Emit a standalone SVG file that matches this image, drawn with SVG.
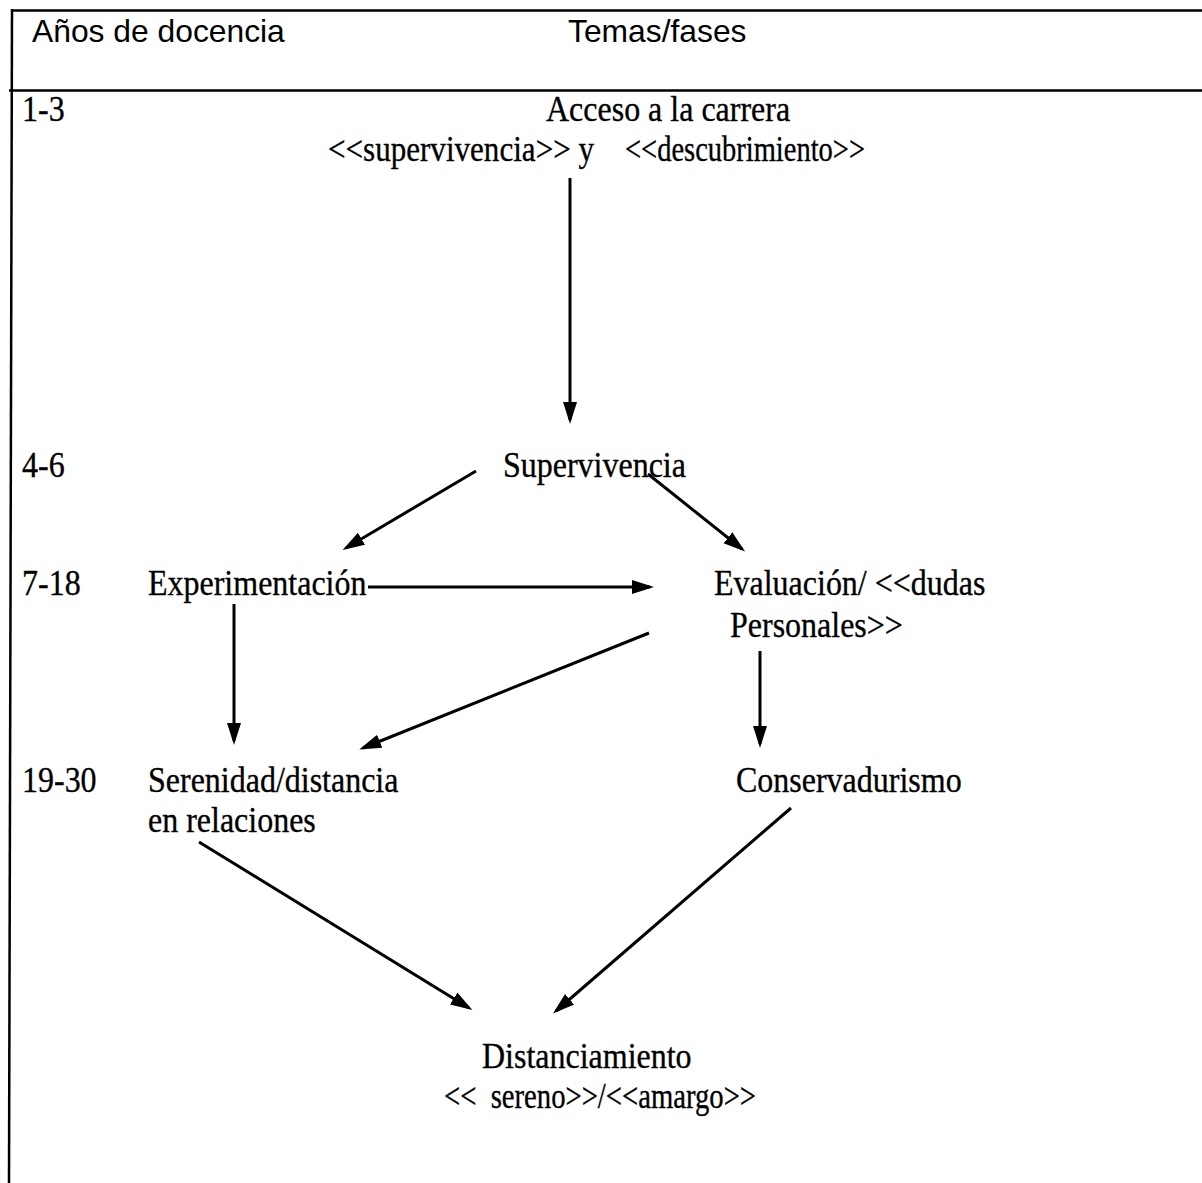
<svg xmlns="http://www.w3.org/2000/svg" width="1202" height="1183" viewBox="0 0 1202 1183">
<defs>
<style>
.frame{stroke:#000;stroke-width:2.5;fill:none}
.hd{font-family:"Liberation Sans",Arial,sans-serif;font-size:31.8px;fill:#000}
.t{font-family:"Liberation Serif","Times New Roman",serif;font-size:32px;fill:#000;stroke:#000;stroke-width:0.3}
.c{stroke:#000;stroke-width:3;fill:none;marker-end:url(#ah)}
</style>
<marker id="ah" markerUnits="userSpaceOnUse" markerWidth="22" markerHeight="16" refX="18" refY="8" orient="auto">
<path d="M0,1 L22,8 L0,15 z" fill="#000"/>
</marker>
</defs>
<rect width="1202" height="1183" fill="#fff"/>
<g id="table">
<line class="frame" x1="12" y1="10.5" x2="1202" y2="10.5"/>
<line class="frame" x1="9" y1="90.5" x2="1202" y2="90.5"/>
<line class="frame" x1="12" y1="9" x2="9" y2="1183"/>
<text class="hd" x="32" y="42">Años de docencia</text>
<text class="hd" x="568" y="42">Temas/fases</text>
<text class="t" transform="translate(22,121) scale(1,1.13)">1-3</text>
<text class="t" transform="translate(22,477) scale(1,1.13)">4-6</text>
<text class="t" transform="translate(22,595) scale(1,1.13)">7-18</text>
<text class="t" transform="translate(22,792) scale(1,1.13)">19-30</text>
</g>
<g id="n-acceso">
<text class="t" transform="translate(546,121) scale(1,1.13)">Acceso a la carrera</text>
<text class="t" transform="translate(328,161) scale(1,1.13)" textLength="266" lengthAdjust="spacingAndGlyphs">&lt;&lt;supervivencia&gt;&gt; y</text>
<text class="t" transform="translate(625,161) scale(1,1.13)" textLength="240" lengthAdjust="spacingAndGlyphs">&lt;&lt;descubrimiento&gt;&gt;</text>
</g>
<g id="n-supervivencia">
<text class="t" transform="translate(503,477) scale(1,1.13)">Supervivencia</text>
</g>
<g id="n-experimentacion">
<text class="t" transform="translate(148,595) scale(1,1.13)">Experimentación</text>
</g>
<g id="n-evaluacion">
<text class="t" transform="translate(714,595) scale(1,1.13)">Evaluación/ &lt;&lt;dudas</text>
<text class="t" transform="translate(730,637) scale(1,1.13)">Personales&gt;&gt;</text>
</g>
<g id="n-serenidad">
<text class="t" transform="translate(148,792) scale(1,1.13)">Serenidad/distancia</text>
<text class="t" transform="translate(148,832) scale(1,1.13)">en relaciones</text>
</g>
<g id="n-conservadurismo">
<text class="t" transform="translate(736,792) scale(1,1.13)">Conservadurismo</text>
</g>
<g id="n-distanciamiento">
<text class="t" transform="translate(482,1068) scale(1,1.13)">Distanciamiento</text>
<text class="t" transform="translate(444,1108) scale(1,1.13)" textLength="312" lengthAdjust="spacingAndGlyphs" xml:space="preserve">&lt;&lt;  sereno&gt;&gt;/&lt;&lt;amargo&gt;&gt;</text>
</g>
<g id="connectors">
<line class="c" x1="570" y1="178" x2="570" y2="420"/>
<line class="c" x1="476" y1="471" x2="346" y2="548"/>
<line class="c" x1="648" y1="474" x2="742" y2="549"/>
<line class="c" x1="368" y1="587" x2="650" y2="587"/>
<line class="c" x1="234" y1="604" x2="234" y2="741"/>
<line class="c" x1="649" y1="633" x2="363" y2="748"/>
<line class="c" x1="760" y1="651" x2="760" y2="744"/>
<line class="c" x1="199" y1="842" x2="469" y2="1008"/>
<line class="c" x1="791" y1="808" x2="556" y2="1011"/>
</g>
</svg>
